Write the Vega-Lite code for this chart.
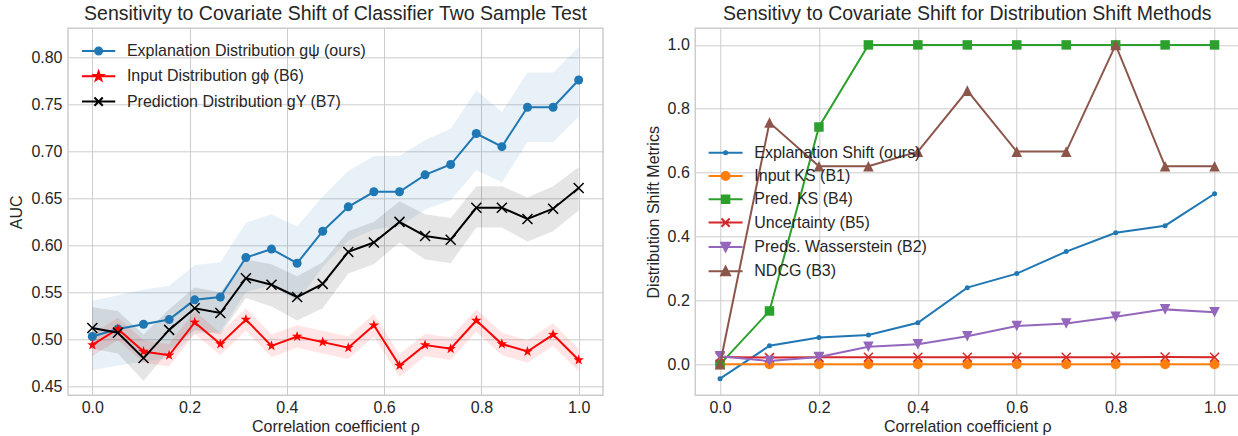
{
"$schema": "https://vega.github.io/schema/vega-lite/v6.json",
"background": "white",
"padding": {"left": 8, "top": 2.3, "right": 0, "bottom": 0},
"spacing": 40.3,
"config": {
  "font": "Liberation Sans",
  "view": {"stroke": "#cccccc", "strokeWidth": 1.5},
  "axis": {"grid": true, "gridColor": "#cccccc", "gridWidth": 1, "domain": false, "ticks": false, "labelFont": "Liberation Sans", "labelFontSize": 16, "labelColor": "#262626", "titleFont": "Liberation Sans", "titleFontSize": 16, "titleColor": "#262626", "titleFontWeight": "normal"},
  "title": {"font": "Liberation Sans", "fontSize": 19.5, "fontWeight": "normal", "color": "#262626", "anchor": "middle", "frame": "group"},
  "legend": {"labelFont": "Liberation Sans", "labelFontSize": 16, "labelColor": "#262626", "padding": 0, "symbolOpacity": 1, "symbolStrokeWidth": 2, "labelLimit": 400}
},
"datasets": {
  "left": [
    {"rho": 0.0, "series": "Explanation Distribution gψ (ours)", "auc": 0.503, "lo": 0.467, "hi": 0.541},
    {"rho": 0.0526, "series": "Explanation Distribution gψ (ours)", "auc": 0.511, "lo": 0.472, "hi": 0.547},
    {"rho": 0.1053, "series": "Explanation Distribution gψ (ours)", "auc": 0.516, "lo": 0.476, "hi": 0.553},
    {"rho": 0.1579, "series": "Explanation Distribution gψ (ours)", "auc": 0.521, "lo": 0.480, "hi": 0.557},
    {"rho": 0.2105, "series": "Explanation Distribution gψ (ours)", "auc": 0.542, "lo": 0.506, "hi": 0.579},
    {"rho": 0.2632, "series": "Explanation Distribution gψ (ours)", "auc": 0.545, "lo": 0.508, "hi": 0.582},
    {"rho": 0.3158, "series": "Explanation Distribution gψ (ours)", "auc": 0.587, "lo": 0.550, "hi": 0.624},
    {"rho": 0.3684, "series": "Explanation Distribution gψ (ours)", "auc": 0.596, "lo": 0.558, "hi": 0.633},
    {"rho": 0.4211, "series": "Explanation Distribution gψ (ours)", "auc": 0.581, "lo": 0.540, "hi": 0.620},
    {"rho": 0.4737, "series": "Explanation Distribution gψ (ours)", "auc": 0.615, "lo": 0.577, "hi": 0.652},
    {"rho": 0.5263, "series": "Explanation Distribution gψ (ours)", "auc": 0.641, "lo": 0.605, "hi": 0.679},
    {"rho": 0.5789, "series": "Explanation Distribution gψ (ours)", "auc": 0.657, "lo": 0.617, "hi": 0.695},
    {"rho": 0.6316, "series": "Explanation Distribution gψ (ours)", "auc": 0.657, "lo": 0.620, "hi": 0.695},
    {"rho": 0.6842, "series": "Explanation Distribution gψ (ours)", "auc": 0.675, "lo": 0.638, "hi": 0.712},
    {"rho": 0.7368, "series": "Explanation Distribution gψ (ours)", "auc": 0.686, "lo": 0.648, "hi": 0.724},
    {"rho": 0.7895, "series": "Explanation Distribution gψ (ours)", "auc": 0.719, "lo": 0.680, "hi": 0.765},
    {"rho": 0.8421, "series": "Explanation Distribution gψ (ours)", "auc": 0.705, "lo": 0.667, "hi": 0.742},
    {"rho": 0.8947, "series": "Explanation Distribution gψ (ours)", "auc": 0.747, "lo": 0.710, "hi": 0.784},
    {"rho": 0.9474, "series": "Explanation Distribution gψ (ours)", "auc": 0.747, "lo": 0.710, "hi": 0.784},
    {"rho": 1.0, "series": "Explanation Distribution gψ (ours)", "auc": 0.776, "lo": 0.737, "hi": 0.811},
    {"rho": 0.0, "series": "Input Distribution gϕ (B6)", "auc": 0.494, "lo": 0.482, "hi": 0.506},
    {"rho": 0.0526, "series": "Input Distribution gϕ (B6)", "auc": 0.511, "lo": 0.499, "hi": 0.523},
    {"rho": 0.1053, "series": "Input Distribution gϕ (B6)", "auc": 0.487, "lo": 0.475, "hi": 0.499},
    {"rho": 0.1579, "series": "Input Distribution gϕ (B6)", "auc": 0.483, "lo": 0.471, "hi": 0.495},
    {"rho": 0.2105, "series": "Input Distribution gϕ (B6)", "auc": 0.518, "lo": 0.506, "hi": 0.530},
    {"rho": 0.2632, "series": "Input Distribution gϕ (B6)", "auc": 0.495, "lo": 0.483, "hi": 0.507},
    {"rho": 0.3158, "series": "Input Distribution gϕ (B6)", "auc": 0.521, "lo": 0.509, "hi": 0.533},
    {"rho": 0.3684, "series": "Input Distribution gϕ (B6)", "auc": 0.493, "lo": 0.481, "hi": 0.505},
    {"rho": 0.4211, "series": "Input Distribution gϕ (B6)", "auc": 0.503, "lo": 0.491, "hi": 0.515},
    {"rho": 0.4737, "series": "Input Distribution gϕ (B6)", "auc": 0.497, "lo": 0.485, "hi": 0.509},
    {"rho": 0.5263, "series": "Input Distribution gϕ (B6)", "auc": 0.491, "lo": 0.479, "hi": 0.503},
    {"rho": 0.5789, "series": "Input Distribution gϕ (B6)", "auc": 0.515, "lo": 0.503, "hi": 0.527},
    {"rho": 0.6316, "series": "Input Distribution gϕ (B6)", "auc": 0.472, "lo": 0.460, "hi": 0.484},
    {"rho": 0.6842, "series": "Input Distribution gϕ (B6)", "auc": 0.494, "lo": 0.482, "hi": 0.506},
    {"rho": 0.7368, "series": "Input Distribution gϕ (B6)", "auc": 0.490, "lo": 0.478, "hi": 0.502},
    {"rho": 0.7895, "series": "Input Distribution gϕ (B6)", "auc": 0.520, "lo": 0.508, "hi": 0.532},
    {"rho": 0.8421, "series": "Input Distribution gϕ (B6)", "auc": 0.495, "lo": 0.483, "hi": 0.507},
    {"rho": 0.8947, "series": "Input Distribution gϕ (B6)", "auc": 0.487, "lo": 0.475, "hi": 0.499},
    {"rho": 0.9474, "series": "Input Distribution gϕ (B6)", "auc": 0.505, "lo": 0.493, "hi": 0.517},
    {"rho": 1.0, "series": "Input Distribution gϕ (B6)", "auc": 0.478, "lo": 0.466, "hi": 0.490},
    {"rho": 0.0, "series": "Prediction Distribution gY (B7)", "auc": 0.512, "lo": 0.490, "hi": 0.534},
    {"rho": 0.0526, "series": "Prediction Distribution gY (B7)", "auc": 0.507, "lo": 0.485, "hi": 0.530},
    {"rho": 0.1053, "series": "Prediction Distribution gY (B7)", "auc": 0.480, "lo": 0.456, "hi": 0.505},
    {"rho": 0.1579, "series": "Prediction Distribution gY (B7)", "auc": 0.510, "lo": 0.488, "hi": 0.532},
    {"rho": 0.2105, "series": "Prediction Distribution gY (B7)", "auc": 0.533, "lo": 0.510, "hi": 0.555},
    {"rho": 0.2632, "series": "Prediction Distribution gY (B7)", "auc": 0.528, "lo": 0.505, "hi": 0.550},
    {"rho": 0.3158, "series": "Prediction Distribution gY (B7)", "auc": 0.565, "lo": 0.544, "hi": 0.585},
    {"rho": 0.3684, "series": "Prediction Distribution gY (B7)", "auc": 0.558, "lo": 0.535, "hi": 0.580},
    {"rho": 0.4211, "series": "Prediction Distribution gY (B7)", "auc": 0.545, "lo": 0.520, "hi": 0.567},
    {"rho": 0.4737, "series": "Prediction Distribution gY (B7)", "auc": 0.559, "lo": 0.533, "hi": 0.582},
    {"rho": 0.5263, "series": "Prediction Distribution gY (B7)", "auc": 0.593, "lo": 0.570, "hi": 0.615},
    {"rho": 0.5789, "series": "Prediction Distribution gY (B7)", "auc": 0.603, "lo": 0.580, "hi": 0.625},
    {"rho": 0.6316, "series": "Prediction Distribution gY (B7)", "auc": 0.625, "lo": 0.603, "hi": 0.647},
    {"rho": 0.6842, "series": "Prediction Distribution gY (B7)", "auc": 0.610, "lo": 0.585, "hi": 0.633},
    {"rho": 0.7368, "series": "Prediction Distribution gY (B7)", "auc": 0.606, "lo": 0.581, "hi": 0.629},
    {"rho": 0.7895, "series": "Prediction Distribution gY (B7)", "auc": 0.640, "lo": 0.619, "hi": 0.663},
    {"rho": 0.8421, "series": "Prediction Distribution gY (B7)", "auc": 0.640, "lo": 0.619, "hi": 0.663},
    {"rho": 0.8947, "series": "Prediction Distribution gY (B7)", "auc": 0.628, "lo": 0.604, "hi": 0.651},
    {"rho": 0.9474, "series": "Prediction Distribution gY (B7)", "auc": 0.639, "lo": 0.615, "hi": 0.663},
    {"rho": 1.0, "series": "Prediction Distribution gY (B7)", "auc": 0.661, "lo": 0.637, "hi": 0.683}
  ],
  "right": [
    {"rho": 0.0, "method": "Explanation Shift (ours)", "value": -0.045},
    {"rho": 0.1, "method": "Explanation Shift (ours)", "value": 0.058},
    {"rho": 0.2, "method": "Explanation Shift (ours)", "value": 0.084},
    {"rho": 0.3, "method": "Explanation Shift (ours)", "value": 0.092},
    {"rho": 0.4, "method": "Explanation Shift (ours)", "value": 0.130},
    {"rho": 0.5, "method": "Explanation Shift (ours)", "value": 0.240},
    {"rho": 0.6, "method": "Explanation Shift (ours)", "value": 0.284},
    {"rho": 0.7, "method": "Explanation Shift (ours)", "value": 0.353},
    {"rho": 0.8, "method": "Explanation Shift (ours)", "value": 0.412},
    {"rho": 0.9, "method": "Explanation Shift (ours)", "value": 0.434},
    {"rho": 1.0, "method": "Explanation Shift (ours)", "value": 0.534},
    {"rho": 0.0, "method": "Input KS (B1)", "value": 0.0},
    {"rho": 0.1, "method": "Input KS (B1)", "value": 0.0},
    {"rho": 0.2, "method": "Input KS (B1)", "value": 0.0},
    {"rho": 0.3, "method": "Input KS (B1)", "value": 0.0},
    {"rho": 0.4, "method": "Input KS (B1)", "value": 0.0},
    {"rho": 0.5, "method": "Input KS (B1)", "value": 0.0},
    {"rho": 0.6, "method": "Input KS (B1)", "value": 0.0},
    {"rho": 0.7, "method": "Input KS (B1)", "value": 0.0},
    {"rho": 0.8, "method": "Input KS (B1)", "value": 0.0},
    {"rho": 0.9, "method": "Input KS (B1)", "value": 0.0},
    {"rho": 1.0, "method": "Input KS (B1)", "value": 0.0},
    {"rho": 0.0, "method": "Pred. KS (B4)", "value": 0.0},
    {"rho": 0.1, "method": "Pred. KS (B4)", "value": 0.167},
    {"rho": 0.2, "method": "Pred. KS (B4)", "value": 0.743},
    {"rho": 0.3, "method": "Pred. KS (B4)", "value": 1.0},
    {"rho": 0.4, "method": "Pred. KS (B4)", "value": 1.0},
    {"rho": 0.5, "method": "Pred. KS (B4)", "value": 1.0},
    {"rho": 0.6, "method": "Pred. KS (B4)", "value": 1.0},
    {"rho": 0.7, "method": "Pred. KS (B4)", "value": 1.0},
    {"rho": 0.8, "method": "Pred. KS (B4)", "value": 1.0},
    {"rho": 0.9, "method": "Pred. KS (B4)", "value": 1.0},
    {"rho": 1.0, "method": "Pred. KS (B4)", "value": 1.0},
    {"rho": 0.0, "method": "Uncertainty (B5)", "value": 0.023},
    {"rho": 0.1, "method": "Uncertainty (B5)", "value": 0.021},
    {"rho": 0.2, "method": "Uncertainty (B5)", "value": 0.022},
    {"rho": 0.3, "method": "Uncertainty (B5)", "value": 0.022},
    {"rho": 0.4, "method": "Uncertainty (B5)", "value": 0.022},
    {"rho": 0.5, "method": "Uncertainty (B5)", "value": 0.022},
    {"rho": 0.6, "method": "Uncertainty (B5)", "value": 0.022},
    {"rho": 0.7, "method": "Uncertainty (B5)", "value": 0.022},
    {"rho": 0.8, "method": "Uncertainty (B5)", "value": 0.022},
    {"rho": 0.9, "method": "Uncertainty (B5)", "value": 0.023},
    {"rho": 1.0, "method": "Uncertainty (B5)", "value": 0.022},
    {"rho": 0.0, "method": "Preds. Wasserstein (B2)", "value": 0.025},
    {"rho": 0.1, "method": "Preds. Wasserstein (B2)", "value": 0.010},
    {"rho": 0.2, "method": "Preds. Wasserstein (B2)", "value": 0.023},
    {"rho": 0.3, "method": "Preds. Wasserstein (B2)", "value": 0.055},
    {"rho": 0.4, "method": "Preds. Wasserstein (B2)", "value": 0.063},
    {"rho": 0.5, "method": "Preds. Wasserstein (B2)", "value": 0.088},
    {"rho": 0.6, "method": "Preds. Wasserstein (B2)", "value": 0.120},
    {"rho": 0.7, "method": "Preds. Wasserstein (B2)", "value": 0.128},
    {"rho": 0.8, "method": "Preds. Wasserstein (B2)", "value": 0.149},
    {"rho": 0.9, "method": "Preds. Wasserstein (B2)", "value": 0.172},
    {"rho": 1.0, "method": "Preds. Wasserstein (B2)", "value": 0.163},
    {"rho": 0.0, "method": "NDCG (B3)", "value": 0.0},
    {"rho": 0.1, "method": "NDCG (B3)", "value": 0.757},
    {"rho": 0.2, "method": "NDCG (B3)", "value": 0.620},
    {"rho": 0.3, "method": "NDCG (B3)", "value": 0.620},
    {"rho": 0.4, "method": "NDCG (B3)", "value": 0.666},
    {"rho": 0.5, "method": "NDCG (B3)", "value": 0.857},
    {"rho": 0.6, "method": "NDCG (B3)", "value": 0.666},
    {"rho": 0.7, "method": "NDCG (B3)", "value": 0.666},
    {"rho": 0.8, "method": "NDCG (B3)", "value": 1.0},
    {"rho": 0.9, "method": "NDCG (B3)", "value": 0.620},
    {"rho": 1.0, "method": "NDCG (B3)", "value": 0.620}
  ]
},
"hconcat": [
  {
    "width": 535, "height": 367,
    "title": {"text": "Sensitivity to Covariate Shift of Classifier Two Sample Test", "offset": 4},
    "data": {"name": "left"},
    "encoding": {
      "x": {"field": "rho", "type": "quantitative", "scale": {"domain": [-0.05, 1.05], "nice": false, "zero": false}, "axis": {"values": [0, 0.2, 0.4, 0.6, 0.8, 1.0], "format": ".1f", "title": "Correlation coefficient ρ", "labelPadding": 4, "titlePadding": 3}}
    },
    "layer": [
      {"transform": [{"filter": "datum.series === 'Explanation Distribution gψ (ours)'"}], "mark": {"type": "area", "color": "#1f77b4", "opacity": 0.1},
       "encoding": {"y": {"field": "lo", "type": "quantitative", "title": "AUC", "scale": {"domain": [0.4404, 0.831], "nice": false, "zero": false}, "axis": {"values": [0.45, 0.5, 0.55, 0.6, 0.65, 0.7, 0.75, 0.8], "format": ".2f", "labelPadding": 6, "titlePadding": 6}}, "y2": {"field": "hi"}}},
      {"transform": [{"filter": "datum.series === 'Input Distribution gϕ (B6)'"}], "mark": {"type": "area", "color": "#ff0000", "opacity": 0.1},
       "encoding": {"y": {"field": "lo", "type": "quantitative", "title": "AUC", "scale": {"domain": [0.4404, 0.831], "nice": false, "zero": false}}, "y2": {"field": "hi"}}},
      {"transform": [{"filter": "datum.series === 'Prediction Distribution gY (B7)'"}], "mark": {"type": "area", "color": "#000000", "opacity": 0.1},
       "encoding": {"y": {"field": "lo", "type": "quantitative", "title": "AUC", "scale": {"domain": [0.4404, 0.831], "nice": false, "zero": false}}, "y2": {"field": "hi"}}},
      {"transform": [{"filter": "datum.series === 'Explanation Distribution gψ (ours)'"}],
       "mark": {"type": "line", "color": "#1f77b4", "strokeWidth": 2, "point": {"filled": true, "shape": "circle", "size": 81, "color": "#1f77b4"}},
       "encoding": {"y": {"field": "auc", "type": "quantitative", "title": "AUC", "scale": {"domain": [0.4404, 0.831], "nice": false, "zero": false}}}},
      {"transform": [{"filter": "datum.series === 'Input Distribution gϕ (B6)'"}],
       "mark": {"type": "line", "color": "#ff0000", "strokeWidth": 2, "point": {"filled": true, "shape": "M0,-1L0.235,-0.324L0.951,-0.309L0.38,0.124L0.588,0.809L0,0.4L-0.588,0.809L-0.38,0.124L-0.951,-0.309L-0.235,-0.324Z", "size": 121, "color": "#ff0000"}},
       "encoding": {"y": {"field": "auc", "type": "quantitative", "title": "AUC", "scale": {"domain": [0.4404, 0.831], "nice": false, "zero": false}}}},
      {"transform": [{"filter": "datum.series === 'Prediction Distribution gY (B7)'"}],
       "mark": {"type": "line", "color": "#000000", "strokeWidth": 2, "point": {"filled": false, "shape": "M-1,-1L1,1M-1,1L1,-1", "size": 100, "color": "#000000", "strokeWidth": 1.5}},
       "encoding": {"y": {"field": "auc", "type": "quantitative", "title": "AUC", "scale": {"domain": [0.4404, 0.831], "nice": false, "zero": false}}}},
      {"mark": {"type": "point", "filled": true, "opacity": 0},
       "encoding": {
         "y": {"field": "auc", "type": "quantitative", "title": "AUC", "scale": {"domain": [0.4404, 0.831], "nice": false, "zero": false}},
         "color": {"field": "series", "type": "nominal", "scale": {"domain": ["Explanation Distribution gψ (ours)", "Input Distribution gϕ (B6)", "Prediction Distribution gY (B7)"], "range": ["#1f77b4", "#ff0000", "#000000"]},
                   "legend": {"title": null, "orient": "none", "legendX": 19.6, "legendY": 11.7, "symbolSize": 400, "rowPadding": 6.3, "labelOffset": 17.3, "symbolOpacity": 1, "symbolStrokeWidth": 2}},
         "stroke": {"field": "series", "type": "nominal", "scale": {"domain": ["Explanation Distribution gψ (ours)", "Input Distribution gϕ (B6)", "Prediction Distribution gY (B7)"], "range": ["#1f77b4", "#ff0000", "#000000"]},
                   "legend": {"title": null, "orient": "none", "legendX": 19.6, "legendY": 11.7, "symbolSize": 400, "rowPadding": 6.3, "labelOffset": 17.3, "symbolOpacity": 1, "symbolStrokeWidth": 2}},
         "shape": {"field": "series", "type": "nominal", "scale": {"domain": ["Explanation Distribution gψ (ours)", "Input Distribution gϕ (B6)", "Prediction Distribution gY (B7)"], "range": [
             "M-1.665,0H1.665M0.35,0A0.35,0.35,0,1,1,-0.35,0A0.35,0.35,0,1,1,0.35,0Z",
             "M-1.665,0H1.665M0,-0.466L0.11,-0.152L0.443,-0.145L0.178,0.058L0.275,0.378L0,0.186L-0.275,0.378L-0.178,0.058L-0.443,-0.145L-0.11,-0.152Z",
             "M-1.665,0H1.665M-0.416,-0.416L0.416,0.416M-0.416,0.416L0.416,-0.416"]},
                   "legend": {"title": null, "orient": "none", "legendX": 19.6, "legendY": 11.7, "symbolSize": 400, "rowPadding": 6.3, "labelOffset": 17.3, "symbolOpacity": 1, "symbolStrokeWidth": 2}}
       }}
    ]
  },
  {
    "width": 544, "height": 367,
    "title": {"text": "Sensitivy to Covariate Shift for Distribution Shift Methods", "offset": 4},
    "data": {"name": "right"},
    "encoding": {
      "x": {"field": "rho", "type": "quantitative", "scale": {"domain": [-0.05, 1.05], "nice": false, "zero": false}, "axis": {"values": [0, 0.2, 0.4, 0.6, 0.8, 1.0], "format": ".1f", "title": "Correlation coefficient ρ", "labelPadding": 4, "titlePadding": 3}},
      "y": {"field": "value", "type": "quantitative", "title": "Distribution Shift Metrics", "scale": {"domain": [-0.097, 1.052], "nice": false, "zero": false}, "axis": {"values": [0, 0.2, 0.4, 0.6, 0.8, 1.0], "format": ".1f", "labelPadding": 6, "titlePadding": 6}}
    },
    "layer": [
      {"transform": [{"filter": "datum.method === 'Explanation Shift (ours)'"}],
       "mark": {"type": "line", "color": "#1f77b4", "strokeWidth": 2, "point": {"filled": true, "shape": "circle", "size": 25, "color": "#1f77b4"}}},
      {"transform": [{"filter": "datum.method === 'Input KS (B1)'"}],
       "mark": {"type": "line", "color": "#ff7f0e", "strokeWidth": 2, "point": {"filled": true, "shape": "circle", "size": 100, "color": "#ff7f0e"}}},
      {"transform": [{"filter": "datum.method === 'Pred. KS (B4)'"}],
       "mark": {"type": "line", "color": "#2ca02c", "strokeWidth": 2, "point": {"filled": true, "shape": "square", "size": 90, "color": "#2ca02c"}}},
      {"transform": [{"filter": "datum.method === 'Uncertainty (B5)'"}],
       "mark": {"type": "line", "color": "#d62728", "strokeWidth": 2, "point": {"filled": false, "shape": "M-1,-1L1,1M-1,1L1,-1", "size": 81, "color": "#d62728", "strokeWidth": 1.5}}},
      {"transform": [{"filter": "datum.method === 'Preds. Wasserstein (B2)'"}],
       "mark": {"type": "line", "color": "#9467bd", "strokeWidth": 2, "point": {"filled": true, "shape": "M-1,-1H1L0,1Z", "size": 112, "color": "#9467bd"}}},
      {"transform": [{"filter": "datum.method === 'NDCG (B3)'"}],
       "mark": {"type": "line", "color": "#8c564b", "strokeWidth": 2, "point": {"filled": true, "shape": "M0,-1L1,1H-1Z", "size": 112, "color": "#8c564b"}}},
      {"mark": {"type": "point", "filled": true, "opacity": 0},
       "encoding": {
         "color": {"field": "method", "type": "nominal", "scale": {"domain": ["Explanation Shift (ours)", "Input KS (B1)", "Pred. KS (B4)", "Uncertainty (B5)", "Preds. Wasserstein (B2)", "NDCG (B3)"], "range": ["#1f77b4", "#ff7f0e", "#2ca02c", "#d62728", "#9467bd", "#8c564b"]},
                   "legend": {"title": null, "orient": "none", "legendX": 19.3, "legendY": 113.4, "symbolSize": 400, "rowPadding": 4.3, "labelOffset": 17.7, "symbolOpacity": 1, "symbolStrokeWidth": 2}},
         "stroke": {"field": "method", "type": "nominal", "scale": {"domain": ["Explanation Shift (ours)", "Input KS (B1)", "Pred. KS (B4)", "Uncertainty (B5)", "Preds. Wasserstein (B2)", "NDCG (B3)"], "range": ["#1f77b4", "#ff7f0e", "#2ca02c", "#d62728", "#9467bd", "#8c564b"]},
                   "legend": {"title": null, "orient": "none", "legendX": 19.3, "legendY": 113.4, "symbolSize": 400, "rowPadding": 4.3, "labelOffset": 17.7, "symbolOpacity": 1, "symbolStrokeWidth": 2}},
         "shape": {"field": "method", "type": "nominal", "scale": {"domain": ["Explanation Shift (ours)", "Input KS (B1)", "Pred. KS (B4)", "Uncertainty (B5)", "Preds. Wasserstein (B2)", "NDCG (B3)"], "range": [
             "M-1.7,0H1.7M0.153,0A0.153,0.153,0,1,1,-0.153,0A0.153,0.153,0,1,1,0.153,0Z",
             "M-1.7,0H1.7M0.4,0A0.4,0.4,0,1,1,-0.4,0A0.4,0.4,0,1,1,0.4,0Z",
             "M-1.7,0H1.7M-0.374,-0.374H0.374V0.374H-0.374Z",
             "M-1.7,0H1.7M-0.408,-0.408L0.408,0.408M-0.408,0.408L0.408,-0.408",
             "M-1.7,0H1.7M-0.442,-0.408H0.442L0,0.442Z",
             "M-1.7,0H1.7M0,-0.442L0.442,0.408H-0.442Z"]},
                   "legend": {"title": null, "orient": "none", "legendX": 19.3, "legendY": 113.4, "symbolSize": 400, "rowPadding": 4.3, "labelOffset": 17.7, "symbolOpacity": 1, "symbolStrokeWidth": 2}}
       }}
    ]
  }
],
"resolve": {"scale": {"x": "independent", "y": "independent", "color": "independent", "stroke": "independent", "shape": "independent"}, "legend": {"color": "independent", "stroke": "independent", "shape": "independent"}}
}
